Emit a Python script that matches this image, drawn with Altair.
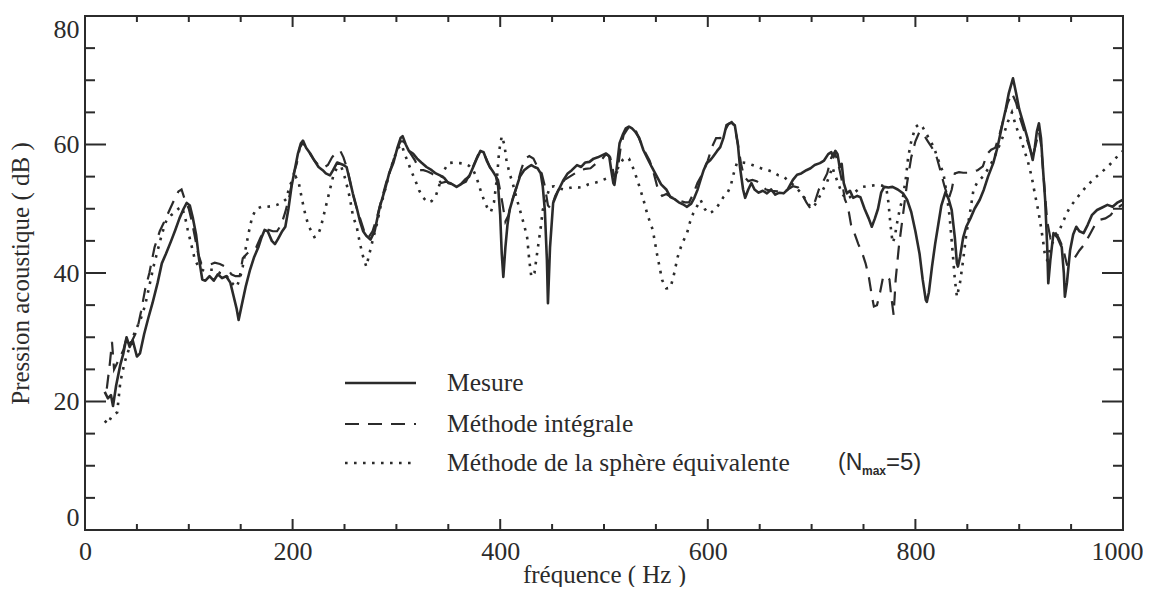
import altair as alt
import pandas as pd

# ---------------- data ----------------
mesure_f = [19, 22, 25, 27, 30, 34, 37, 40, 43, 46,
            50, 53, 57, 61, 65, 70, 74, 78, 83, 87,
            91, 95, 98, 101, 104, 107, 110, 113, 116, 120,
            124, 128, 132, 136, 140, 143, 146, 148, 151, 155,
            159, 163, 167, 170, 173, 176, 180, 183, 186, 190,
            193, 196, 199, 202, 205, 208, 210, 213, 217, 221,
            225, 229, 232, 236, 239, 243, 246, 249, 252, 255,
            258, 262, 265, 268, 271, 275, 279, 284, 289, 293,
            297, 301, 304, 306, 309, 312, 316, 320, 324, 329,
            334, 338, 342, 346, 350, 354, 358, 362, 366, 370,
            374, 378, 381, 384, 387, 390, 393, 396, 398, 400,
            401.5, 403, 405, 407, 409, 413, 416, 419, 423, 427,
            430, 433, 436, 439, 441, 443, 445, 446, 448, 451,
            455, 458, 461, 465, 469, 474, 478, 482, 486, 490,
            494, 498, 502, 505, 507, 509, 510, 512, 515, 518,
            521, 524, 527, 530, 534, 538, 542, 546, 551, 555,
            560, 564, 568, 572, 576, 580, 584, 587, 590, 593,
            596, 599, 602, 605, 609, 612, 615, 618, 621, 623,
            626, 629, 631, 634, 636, 639, 642, 645, 649, 653,
            657, 661, 665, 669, 673, 677, 682, 686, 690, 695,
            699, 703, 708, 712, 716, 719, 721, 723, 725, 727,
            729, 731, 734, 737, 740, 744, 747, 751, 755, 758,
            761, 764, 767, 770, 774, 778, 783, 788, 792, 796,
            800, 804, 807, 810, 811, 813, 816, 819, 822, 825,
            829, 832, 835, 838, 840, 841, 843, 846, 849, 853,
            857, 862, 866, 870, 875, 879, 884, 887, 890, 894,
            897, 900, 904, 908, 911, 913, 915, 917, 919, 921,
            923, 925, 927, 928, 930, 933, 937, 941, 943, 944,
            946, 949, 952, 955, 958, 962, 966, 970, 975, 980,
            985, 990, 995, 1000]
mesure_db = [21.5, 20.5, 21, 19.3, 22.5, 25.7, 27.5, 30, 28.5, 29.5,
             27, 27.5, 30.5, 33, 35.3, 38.5, 41.5, 43, 45, 46.7,
             48.5, 50, 50.9, 50.5, 48.5, 46, 42, 39, 38.8, 39.5,
             38.8, 39.8, 39.2, 39.5, 38.5, 36.5, 34.5, 32.7, 35, 38,
             40.5, 42.5, 44, 45.5, 46.7, 46.5, 45, 44.5, 45.3, 46.5,
             47.2, 50, 53.5, 56, 58.5, 60.2, 60.6, 59.5, 58.6, 57.5,
             56.5, 56, 55.5, 55.2, 56, 57.2, 57, 56.8, 56.5, 54.5,
             52.4, 50, 48, 46.5, 45.8, 45.2, 46.5, 50.3, 53, 55.5,
             57.1, 59.5, 61, 61.3, 60, 59, 58.6, 57.8, 57.2, 56.5,
             56, 55.5, 55.2, 54.8, 54, 53.8, 53.4, 53.8, 54.5, 55,
             56.5, 58, 59, 58.8, 57.5, 56.5, 55.8, 55, 53.5, 49,
             43, 39.4, 44, 47.5, 49.8, 52, 53.5, 55, 56, 56.5,
             56.8, 56.5, 56.3, 55.5, 53.5, 49.8, 42, 35.3, 44, 50.9,
             52.5, 53.5, 54.5, 55.5, 56, 56.8, 56.5, 57.2, 57.3, 57.8,
             58, 58.3, 58.6, 58.2, 56, 54, 53.7, 56, 60.2, 61.5,
             62.5, 62.8, 62.5, 62, 61, 59.1, 57.8, 56.5, 55, 53.8,
             53, 51.8, 51.5, 51, 50.7, 50.3, 50.8, 51.7, 52.9, 54.5,
             56, 57.1, 57.5, 58.1, 59, 59.6, 61, 63, 63.3, 63.4,
             63, 60, 56.5, 53, 51.7, 53, 54, 53, 52.5, 52.8,
             52.4, 53, 52.2, 52.5, 52.4, 53, 54.5, 55.3, 55.5, 56,
             56.3, 56.8, 57.1, 57.5, 58.5, 58.8, 58, 59, 58.5, 56.5,
             57, 54, 52.4, 52.8, 51.7, 52, 51.8, 50, 48.5, 47.2,
             48.5, 50, 52.5, 53.4, 53.3, 53.4, 53, 52.4, 51.4, 49.5,
             46.5, 43, 39, 35.8, 35.5, 37, 41, 44.5, 47.5, 50.5,
             52.6, 51.5, 49.8, 45.5, 41.5, 41, 42.5, 45.5, 47.2, 48.5,
             50, 51.4, 53, 55, 57.1, 59.5, 63.3, 65.5, 68, 70.3,
             68, 65.5, 63.3, 61, 59, 57.6, 59.5, 62, 63.3, 61,
             56, 51.4, 44, 38.4, 42, 46.2, 45.5, 44, 40, 36.3,
             38.5, 43.5, 46, 47.2, 46.5, 46.2, 47.5, 49, 49.8, 50.2,
             50.6, 50.3, 51, 51.4]

integrale_f = [21, 24, 26, 28, 31, 34, 37, 40, 44, 47,
               50, 54, 58, 62, 67, 72, 77, 82, 86, 90,
               93, 96, 100, 103, 106, 109, 112, 116, 120, 125,
               130, 135, 138, 141, 145, 149, 152, 156, 160, 165,
               169, 173, 177, 181, 185, 189, 193, 197, 201, 204,
               207, 210, 213, 217, 221, 225, 230, 234, 238, 242,
               246, 249, 253, 257, 261, 265, 269, 273, 277, 281,
               285, 290, 295, 300, 304, 307, 310, 314, 318, 322,
               326, 330, 334, 338, 343, 348, 352, 357, 362, 367,
               371, 375, 379, 382, 386, 390, 394, 398, 402, 405,
               408, 412, 416, 420, 424, 428, 432, 436, 440, 443,
               446, 449, 453, 458, 462, 467, 472, 477, 482, 487,
               492, 497, 502, 506, 510, 513, 516, 519, 523, 527,
               531, 535, 539, 544, 548, 552, 556, 560, 565, 570,
               574, 578, 582, 586, 590, 595, 600, 604, 608, 612,
               616, 620, 623, 626, 629, 632, 635, 639, 643, 647,
               651, 656, 661, 667, 672, 677, 682, 687, 691, 695,
               699, 703, 707, 711, 715, 719, 722, 725, 729, 732,
               735, 738, 741, 745, 749, 752, 755, 758, 760, 763,
               766, 769, 772, 775, 777, 779, 781, 784, 788, 792,
               796, 800, 804, 808, 812, 816, 820, 824, 828, 832,
               835, 838, 842, 846, 850, 855, 860, 865, 869, 873,
               877, 881, 885, 889, 893, 897, 901, 905, 909, 913,
               916, 919, 921, 924, 927, 930, 934, 938, 942, 946,
               950, 954, 958, 963, 968, 973, 978, 983, 988, 993,
               998, 1000]
integrale_db = [22, 26, 29.3, 25, 26, 27, 28, 30, 29, 30,
                31, 34, 37.5, 40, 44, 46.5, 48.2, 50, 51.4, 52.7,
                53, 51.5, 50, 48, 45.5, 43, 41.5, 41.5, 41.3, 41.6,
                41.4, 41, 40.5, 39.8, 39.5, 39.5, 42.3, 43, 43.5, 44,
                45.5, 46.7, 46.7, 46.5, 46.5, 47.5, 49.5, 52, 55.5, 57,
                59.5, 60.3, 59.5, 58.5, 57.5, 56.8, 56.4, 56.8, 58, 58.8,
                59, 58, 56, 53, 50.5, 48.5, 46.5, 45.5, 46.5, 48.5,
                51, 54, 56.5, 59, 60.5, 60.5, 59.5, 58.5, 57.5, 56,
                56, 55.8, 55.5, 55, 54, 54.2, 54, 53.5, 53.8, 54.2,
                55.5, 57, 58.5, 58.8, 58, 56.5, 55.5, 54.5, 51, 48,
                49, 51.5, 53.5, 56, 57.8, 58.2, 57.8, 56.5, 55.5, 53.5,
                50.5, 50, 52, 53.5, 54.5, 55, 55.5, 56, 56.2, 56.3,
                57, 57.5, 58.5, 58, 55, 55.8, 59.5, 61.5, 62.5, 62.8,
                62, 60.5, 59, 57.5, 55.5, 53, 52, 52.3, 51.8, 51.5,
                51.2, 51, 51, 52.3, 54, 55.5, 57.5, 59.6, 61, 61,
                62, 63.2, 63.5, 62.8, 60, 57, 55, 54.3, 54.5, 54.3,
                53.8, 53, 52.8, 52.7, 52.5, 53, 53.5, 53.3, 52.2, 51,
                50, 51, 53, 54.2, 55.5, 58, 58.8, 57.5, 54.5, 51.5,
                50.3, 47.5, 46.3, 44.5, 43, 41.5, 39.5, 36.5, 34.8, 35,
                37, 39.5, 39.5, 39, 36, 33.5, 39, 44, 49, 54,
                58, 60.5, 62, 61.5, 60.5, 59.5, 58.3, 56, 53.5, 51.5,
                53, 55.5, 55.7, 55.6, 55.6, 55.8, 56, 56.6, 58.5, 59.2,
                59.5, 61.5, 64, 66.5, 68, 66.5, 64, 62, 60, 58,
                60, 62, 60, 54, 48, 45.5, 46.5, 45.5, 44, 41.3,
                41.5, 42.5, 43.5, 44.5, 46, 47.5, 48.3, 48.5, 49, 50,
                50.5, 50.7]

sphere_f = [19, 22, 25, 28, 31, 34, 38, 42, 46, 50,
            54, 58, 62, 66, 70, 74, 78, 83, 87, 90,
            93, 96, 99, 103, 106, 110, 115, 120, 125, 130,
            135, 139, 143, 146, 149, 152, 155, 158, 161, 165,
            170, 175, 180, 185, 190, 194, 197, 200, 203, 206,
            209, 212, 215, 218, 221, 224, 227, 230, 233, 236,
            239, 243, 247, 251, 255, 258, 262, 265, 268, 271,
            274, 277, 281, 285, 290, 294, 298, 302, 305, 308,
            311, 314, 318, 322, 326, 330, 334, 338, 342, 346,
            350, 355, 361, 366, 370, 374, 377, 380, 384, 388,
            391, 394, 397, 399, 401.5, 404, 406, 409, 412, 416,
            419, 423, 426, 428, 430, 433, 436, 439, 441, 444,
            448, 452, 456, 461, 466, 471, 476, 480, 485, 490,
            495, 499, 504, 509, 514, 518, 521, 524, 527, 531,
            535, 538, 542, 547, 551, 556, 560, 564, 567, 571,
            575, 580, 583, 586, 590, 593, 597, 600, 604, 609,
            612, 615, 619, 622, 625, 628, 633, 638, 643, 648,
            653, 658, 663, 668, 673, 678, 684, 689, 694, 698,
            701, 704, 708, 712, 715, 718, 720, 722, 725, 729,
            733, 737, 741, 745, 749, 753, 758, 763, 768, 772,
            774, 776, 778, 780, 782, 785, 788, 791, 793, 796,
            800, 804, 807, 810, 814, 818, 821, 824, 827, 830,
            833, 836, 838, 840, 843, 846, 849, 853, 856, 860,
            865, 870, 875, 880, 885, 889, 893, 897, 902, 905,
            908, 912, 915, 918, 920, 923, 925, 927, 930, 933,
            937, 941, 945, 949, 954, 959, 965, 971, 978, 985,
            991, 997, 1000]
sphere_db = [17, 16.5, 17.5, 18, 18.3, 23, 26, 28, 30, 31.5,
             33, 35, 38, 41, 43.5, 46, 48, 49, 49.5, 50,
             50.3, 49, 46.7, 44, 42, 40.8, 40.3, 40.5, 40.5, 40,
             39.8, 39, 38.2, 37.8, 39, 41, 44, 46.5, 48.7, 50,
             50.3, 50.3, 50.4, 50.6, 51, 51.5, 53.5, 54.5, 55, 54,
             51.5, 49.3, 47.5, 46.5, 45.6, 45.8, 47, 49, 51, 53,
             55, 56.5, 56.5, 54.5, 51.8, 49, 47, 44.5, 42.5, 41,
             43, 45, 47.5, 50.5, 53.5, 56, 58, 59.5, 60, 58.5,
             57.3, 56, 54.5, 52.8, 51.7, 51, 51.2, 52, 54, 56,
             57.1, 57.2, 57.1, 57, 56.7, 56, 55, 53.4, 51.5, 50,
             49.5, 51, 55, 59, 61.3, 60, 57.6, 55.5, 54, 51.5,
             49.8, 47.5, 45.5, 42, 39.4, 40, 43.6, 47, 49.8, 51.5,
             53.4, 53.5, 53.2, 53, 53.2, 53.4, 53.3, 53.4, 53.8, 54,
             54.2, 54.5, 54.8, 55.2, 56.5, 57.6, 58, 57.8, 56.8, 55,
             53, 51.4, 49, 46.7, 43, 38.9, 37.6, 37.7, 39.5, 42.5,
             44.5, 46.2, 48, 49.3, 50.5, 51.4, 50, 49.3, 49.5, 50.3,
             51, 51.8, 52.5, 53.5, 55.5, 57.1, 57.2, 57.1, 56.8, 56.5,
             56.2, 56, 55.7, 55.2, 55, 54.3, 53.5, 52.6, 51.5, 50.5,
             50.1, 50.8, 52, 53.3, 54.2, 55.5, 56.5, 55.5, 54.2, 52.5,
             51.5, 51.8, 52.5, 53, 53.4, 53.5, 53.6, 53.7, 53.6, 53.2,
             51, 47.5, 44.7, 45.5, 47.5, 50, 51.8, 55, 58, 60.5,
             62.7, 63.2, 62.7, 61.8, 60.7, 59.5, 58, 56.8, 55.5, 52.5,
             48.7, 43, 39, 36.3, 38.5, 42, 46, 49.8, 53, 54.2,
             55, 56.2, 57.6, 59.5, 61.5, 63.5, 65, 62.8, 60.7, 59,
             57.6, 55, 52.4, 50, 48.2, 45, 42.5, 42, 44, 45,
             46, 47.5, 49, 50.3, 51.3, 52.4, 53.5, 54.5, 55.5, 56.5,
             57.5, 58.6, 59]

legend_labels = ["Mesure", "Méthode intégrale", "Méthode de la sphère équivalente"]
x_major = [0, 200, 400, 600, 800, 1000]
x_minor = [50, 100, 150, 250, 300, 350, 450, 500, 550, 650, 700, 750, 850, 900, 950]
y_major = [0, 20, 40, 60, 80]
y_minor = [5, 10, 15, 25, 30, 35, 45, 50, 55, 65, 70, 75]

# ---------------- styling ----------------
W, H = 1038, 514
INK = "#2b2b2b"
SERIF = "Liberation Serif"
SANS = "Liberation Sans"

xs = alt.Scale(domain=[0, 1000], nice=False, zero=False)
ys = alt.Scale(domain=[0, 80], nice=False, zero=False)

df_m = pd.DataFrame({"f": mesure_f, "db": mesure_db})
df_i = pd.DataFrame({"f": integrale_f, "db": integrale_db})
df_s = pd.DataFrame({"f": sphere_f, "db": sphere_db})

x_axis = alt.Axis(values=x_major, format="d", ticks=False, grid=False, domain=False,
                  labelFlush=False,
                  labelFont=SERIF, labelFontSize=26, labelColor=INK, labelPadding=8,
                  labelOffset=alt.condition("datum.value == 1000", alt.value(-6), alt.value(0)),
                  title="fréquence ( Hz )", titleFont=SERIF, titleFontSize=25,
                  titleFontWeight="normal", titleColor=INK, titleY=44,
                  titleBaseline="middle")
y_axis = alt.Axis(values=y_major, format="d", ticks=False, grid=False, domain=False,
                  labelFlush=True,
                  labelFont=SERIF, labelFontSize=26, labelColor=INK, labelPadding=6,
                  title="Pression acoustique ( dB )", titleFont=SERIF, titleFontSize=25,
                  titleFontWeight="normal", titleColor=INK, titleAngle=270,
                  titleX=-65, titleY=H / 2, titleAlign="center", titleBaseline="middle")

def X(field):
    return alt.X(field, scale=xs, axis=x_axis)

def Y(field):
    return alt.Y(field, scale=ys, axis=y_axis)

line_m = alt.Chart(df_m).mark_line(color=INK, strokeWidth=2.6, strokeJoin="round").encode(
    x=X("f:Q"), y=Y("db:Q"), order="f:Q")
line_i = alt.Chart(df_i).mark_line(color=INK, strokeWidth=2.2, strokeDash=[14, 9]).encode(
    x=X("f:Q"), y=Y("db:Q"), order="f:Q")
line_s = alt.Chart(df_s).mark_line(color=INK, strokeWidth=2.6, strokeDash=[2.6, 6.4]).encode(
    x=X("f:Q"), y=Y("db:Q"), order="f:Q")

def xticks(vals, y0, y1):
    return alt.Chart(pd.DataFrame({"f": vals})).mark_rule(color=INK, strokeWidth=2).encode(
        x=X("f:Q"), y=alt.value(y0), y2=alt.value(y1))

def yticks(vals, x0, x1):
    return alt.Chart(pd.DataFrame({"db": vals})).mark_rule(color=INK, strokeWidth=2).encode(
        y=Y("db:Q"), x=alt.value(x0), x2=alt.value(x1))

ticks = [
    xticks(x_major[1:-1], H, H - 11), xticks(x_minor, H, H - 6),
    xticks(x_major[1:-1], 0, 11), xticks(x_minor, 0, 6),
    yticks(y_major[1:-1], 0, 21), yticks(y_minor, 0, 10),
    yticks(y_major[1:-1], W, W - 21), yticks(y_minor, W, W - 10),
]

# ---------------- legend ----------------
leg_y = [367, 408, 447]
leg_styles = [dict(strokeWidth=2.6), dict(strokeWidth=2.2, strokeDash=[14, 9]),
              dict(strokeWidth=2.6, strokeDash=[2.6, 6.4])]
legend_layers = []
for lab, yy, st in zip(legend_labels, leg_y, leg_styles):
    d = pd.DataFrame({"t": [lab]})
    legend_layers.append(alt.Chart(d).mark_rule(color=INK, **st).encode(
        x=alt.value(260), x2=alt.value(331), y=alt.value(yy)))
    legend_layers.append(alt.Chart(d).mark_text(
        font=SERIF, fontSize=25.5, color=INK, align="left", baseline="middle").encode(
        x=alt.value(362), y=alt.value(yy), text="t:N"))

nmax = [
    alt.Chart(pd.DataFrame({"t": ["(N"]})).mark_text(font=SANS, fontSize=23, color=INK,
        align="left", baseline="middle").encode(x=alt.value(753), y=alt.value(447), text="t:N"),
    alt.Chart(pd.DataFrame({"t": ["max"]})).mark_text(font=SANS, fontSize=12, fontWeight="bold",
        color=INK, align="left", baseline="middle").encode(x=alt.value(777), y=alt.value(455), text="t:N"),
    alt.Chart(pd.DataFrame({"t": ["=5)"]})).mark_text(font=SANS, fontSize=24, color=INK,
        align="left", baseline="middle").encode(x=alt.value(801), y=alt.value(447), text="t:N"),
]

chart = alt.layer(line_m, line_i, line_s, *ticks, *legend_layers, *nmax).properties(
    width=W, height=H,
    autosize=alt.AutoSizeParams(type="none"),
    padding={"left": 77, "top": 8, "right": 20, "bottom": 57},
    background="white",
).configure_view(stroke=INK, strokeWidth=2)

chart.save("out.html", embed_options={"renderer": "svg", "actions": False})
